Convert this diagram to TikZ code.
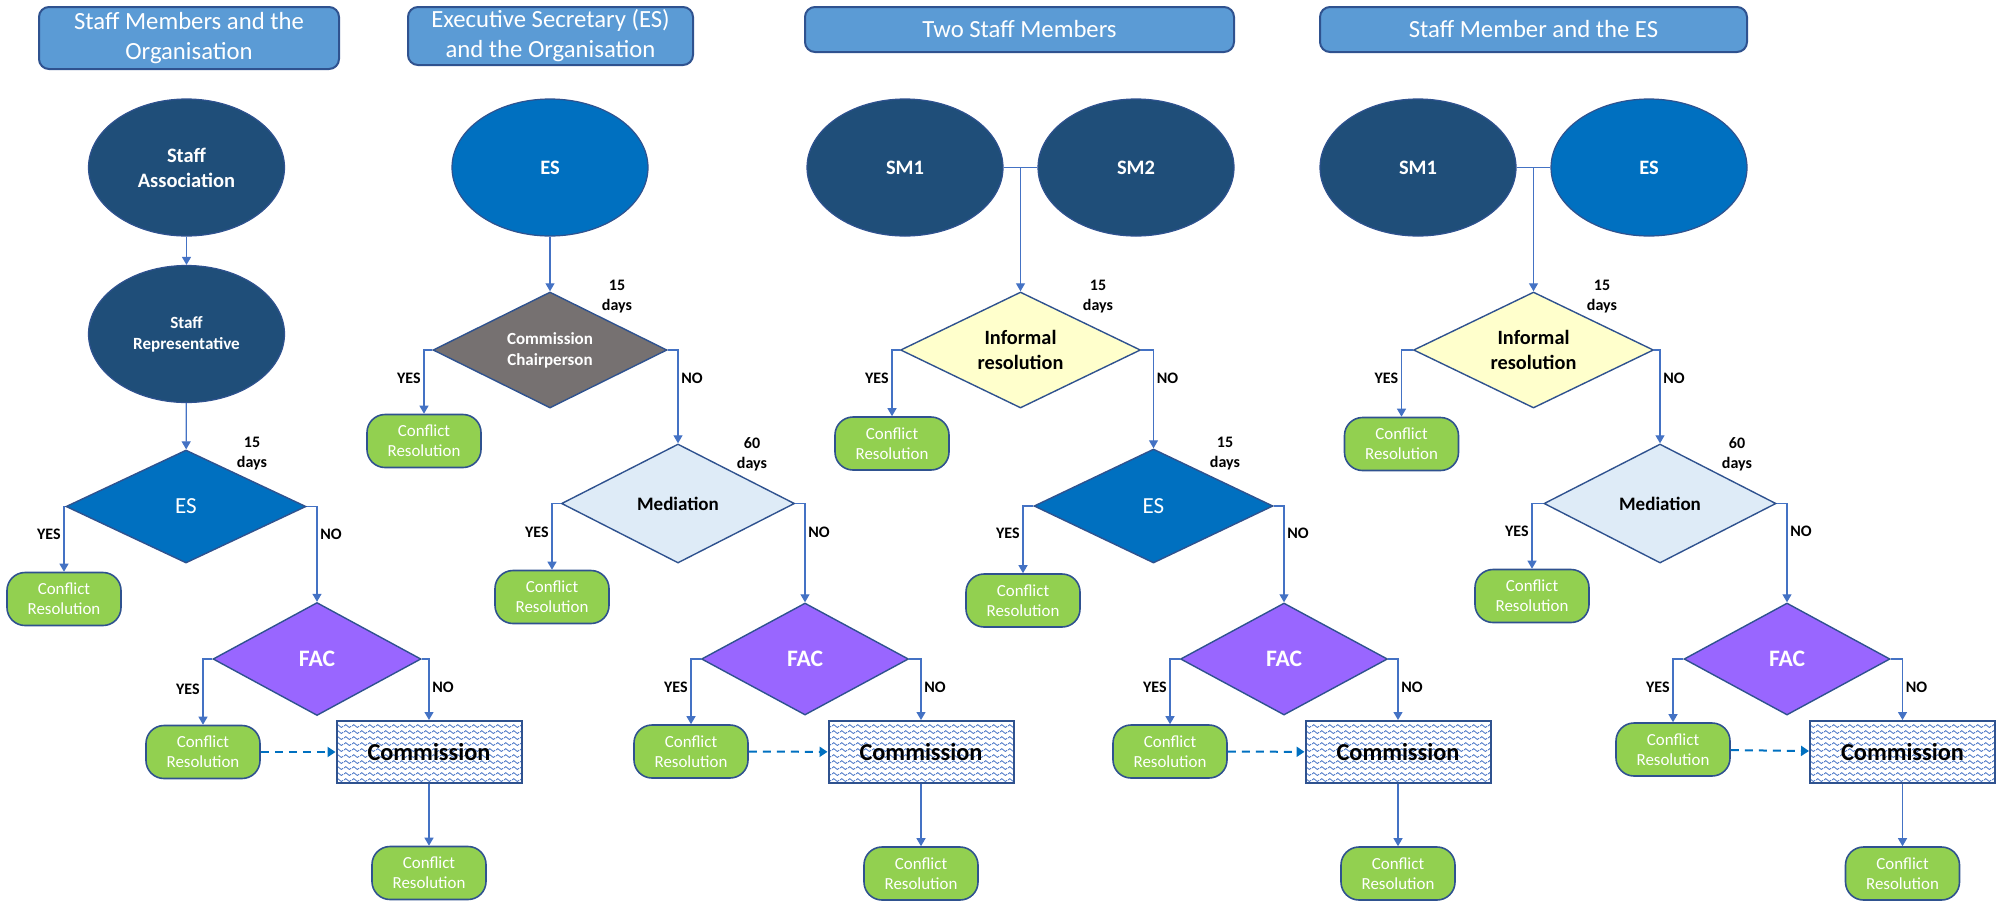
\documentclass[tikz,border=0pt]{standalone}
\usepackage{fontspec}
\setmainfont{Carlito}
\usepackage{xcolor}
\usepackage{tikz}
\usetikzlibrary{positioning, shapes.geometric, arrows.meta, patterns}
\definecolor{titleblue}{RGB}{91,155,213}
\definecolor{borderblue}{RGB}{47,82,143}
\definecolor{darknavy}{RGB}{31,78,121}
\definecolor{esblue}{RGB}{0,112,192}
\definecolor{facpurple}{RGB}{153,102,255}
\definecolor{chairgray}{RGB}{118,113,113}
\definecolor{medblue}{RGB}{222,235,247}
\definecolor{infyellow}{RGB}{255,255,204}
\definecolor{resgreen}{RGB}{146,208,80}
\definecolor{lineblue}{RGB}{68,114,196}

\pgfdeclarepatternformonly{bluewaves}{\pgfqpoint{0pt}{0pt}}{\pgfqpoint{4pt}{3pt}}{\pgfqpoint{4pt}{3pt}}{%
    \pgfsetlinewidth{0.45pt}
    \pgfpathmoveto{\pgfqpoint{0pt}{1.1pt}}
    \pgfpathcurveto{\pgfqpoint{0.65pt}{2.2pt}}{\pgfqpoint{1.35pt}{2.2pt}}{\pgfqpoint{2pt}{1.1pt}}
    \pgfpathcurveto{\pgfqpoint{2.65pt}{0pt}}{\pgfqpoint{3.35pt}{0pt}}{\pgfqpoint{4pt}{1.1pt}}
    \pgfusepath{stroke}
}

\tikzset{
    titlebox/.style={
        rectangle, rounded corners=5pt,
        draw=borderblue, line width=1pt,
        fill=titleblue, text=white,
        align=center, inner sep=0pt,
        font=\fontsize{12.35}{15}\selectfont
    },
    party/.style={
        ellipse, draw=borderblue, line width=0.6pt,
        minimum width=98pt, minimum height=68.5pt,
        inner sep=0pt, text=white, align=center,
        font=\bfseries\fontsize{10.25}{12.5}\selectfont
    },
    decision/.style={
        diamond, aspect=2,
        draw=borderblue, line width=0.7pt,
        inner sep=0pt, align=center
    },
    outcome/.style={
        rectangle, rounded corners=9pt,
        draw=borderblue, line width=0.8pt,
        fill=resgreen, text=white,
        minimum width=57pt, minimum height=26.5pt,
        inner sep=0pt, align=center,
        font=\fontsize{8.45}{10}\selectfont
    },
    commission/.style={
        rectangle, draw=borderblue, line width=1pt,
        pattern=bluewaves, pattern color=lineblue,
        minimum width=92.5pt, minimum height=31pt,
        font=\bfseries\fontsize{12.15}{14}\selectfont
    }
}
\tikzset{
    ptr/.style={
        -{Triangle[width=4.5pt,length=4pt]},
        draw=lineblue, line width=0.6pt
    },
    link/.style={draw=lineblue, line width=0.6pt},
    dashptr/.style={
        -{Triangle[width=5pt,length=4pt]},
        draw=esblue, line width=1pt,
        dash pattern=on 4pt off 3pt
    },
    answer/.style={font=\bfseries\fontsize{8}{10}\selectfont, inner sep=1.5pt},
    delay/.style={font=\bfseries\fontsize{8}{10}\selectfont, align=center, inner sep=0pt}
}

\begin{document}
\begin{tikzpicture}[x=0.5pt, y=-0.5pt]
    \useasboundingbox (0,0) rectangle (2002,901);

    % Staff Members and the Organisation
    \node[titlebox, minimum width=150pt, minimum height=31pt] (t1) at (189,38) {Staff Members and the\\Organisation};
    \node[party, fill=darknavy] (sa) at (186.5,167.5) {Staff\\Association};
    \node[party, fill=darknavy, font=\bfseries\fontsize{8.55}{10.5}\selectfont] (sr) at (186.5,334) {Staff\\Representative};
    \node[decision, fill=esblue, text=white, minimum width=120pt, minimum height=56.5pt,
          font=\fontsize{11.5}{13}\selectfont] (es1) at (186,506.5) {ES};
    \node[delay] (d1) at (252,454) {15\\days};
    \node[outcome] (cr1a) at (64,599) {Conflict\\Resolution};
    \node[decision, fill=facpurple, text=white, minimum width=104pt, minimum height=56.5pt,
          font=\bfseries\fontsize{11.8}{13}\selectfont] (fac1) at (317,659) {FAC};
    \node[outcome] (cr1b) at (203,752) {Conflict\\Resolution};
    \node[commission] (com1) at (429,752) {Commission};
    \node[outcome] (cr1c) at (429,873) {Conflict\\Resolution};

    \draw[ptr] (sa) -- (sr);
    \draw[ptr] (sr) -- (es1);
    \draw[ptr] (es1.west) -| (cr1a.north);
    \draw[ptr] (es1.east) -| (fac1.north);
    \draw[ptr] (fac1.west) -| (cr1b.north);
    \draw[ptr] (fac1.east) -| (com1.north);
    \draw[dashptr] (cr1b) -- (com1);
    \draw[ptr] (com1) -- (cr1c);
    \node[answer, left] (y1a) at ([yshift=-14pt]es1.west -| cr1a.north) {YES};
    \node[answer, right] (n1a) at ([yshift=-14pt]es1.east -| fac1.north) {NO};
    \node[answer, left] (y1b) at ([yshift=-15pt]fac1.west -| cr1b.north) {YES};
    \node[answer, right] (n1b) at ([yshift=-14pt]fac1.east -| com1.north) {NO};

    % Executive Secretary and the Organisation
    \node[titlebox, minimum width=142.5pt, minimum height=29pt] (t2) at (550.5,36) {Executive Secretary (ES)\\and the Organisation};
    \node[party, fill=esblue] (es2) at (550,167.5) {ES};
    \node[decision, fill=chairgray, text=white, minimum width=117pt, minimum height=58pt,
          font=\bfseries\fontsize{8.5}{10.5}\selectfont] (cc2) at (550,350) {Commission\\Chairperson};
    \node[delay] (d2a) at (617,297) {15\\days};
    \node[outcome] (cr2a) at (424,441) {Conflict\\Resolution};
    \node[decision, fill=medblue, minimum width=116.5pt, minimum height=59.5pt,
          font=\bfseries\fontsize{9.5}{11}\selectfont] (med2) at (678,503.5) {Mediation};
    \node[delay] (d2b) at (752,454) {60\\days};
    \node[outcome] (cr2b) at (552,597) {Conflict\\Resolution};
    \node[decision, fill=facpurple, text=white, minimum width=103.5pt, minimum height=56pt,
          font=\bfseries\fontsize{11.8}{13}\selectfont] (fac2) at (805,659) {FAC};
    \node[outcome] (cr2c) at (691,751.5) {Conflict\\Resolution};
    \node[commission] (com2) at (921,752) {Commission};
    \node[outcome] (cr2d) at (921,873.5) {Conflict\\Resolution};

    \draw[ptr] (es2) -- (cc2);
    \draw[ptr] (cc2.west) -| (cr2a.north);
    \draw[ptr] (cc2.east) -| (med2.north);
    \draw[ptr] (med2.west) -| (cr2b.north);
    \draw[ptr] (med2.east) -| (fac2.north);
    \draw[ptr] (fac2.west) -| (cr2c.north);
    \draw[ptr] (fac2.east) -| (com2.north);
    \draw[dashptr] (cr2c) -- (com2);
    \draw[ptr] (com2) -- (cr2d);
    \node[answer, left] (y2a) at ([yshift=-14pt]cc2.west -| cr2a.north) {YES};
    \node[answer, right] (n2a) at ([yshift=-14pt]cc2.east -| med2.north) {NO};
    \node[answer, left] (y2b) at ([yshift=-14.5pt]med2.west -| cr2b.north) {YES};
    \node[answer, right] (n2b) at ([yshift=-14.5pt]med2.east -| fac2.north) {NO};
    \node[answer, left] (y2c) at ([yshift=-14pt]fac2.west -| cr2c.north) {YES};
    \node[answer, right] (n2c) at ([yshift=-14pt]fac2.east -| com2.north) {NO};

    % Two Staff Members
    \node[titlebox, minimum width=214.5pt, minimum height=22.5pt] (t3) at (1019.5,29.5) {Two Staff Members};
    \node[party, fill=darknavy] (sm3a) at (905,167.5) {SM1};
    \node[party, fill=darknavy] (sm3b) at (1136,167.5) {SM2};
    \node[decision, fill=infyellow, minimum width=120pt, minimum height=58pt,
          font=\bfseries\fontsize{10.15}{12.5}\selectfont] (ir3) at (1020.5,350) {Informal\\resolution};
    \node[delay] (d3a) at (1098,297) {15\\days};
    \node[outcome] (cr3a) at (892,443.5) {Conflict\\Resolution};
    \node[decision, fill=esblue, text=white, minimum width=119.5pt, minimum height=57pt,
          font=\fontsize{11.5}{13}\selectfont] (es3) at (1153.5,506) {ES};
    \node[delay] (d3b) at (1225,454) {15\\days};
    \node[outcome] (cr3b) at (1023,600.5) {Conflict\\Resolution};
    \node[decision, fill=facpurple, text=white, minimum width=103.5pt, minimum height=56pt,
          font=\bfseries\fontsize{11.8}{13}\selectfont] (fac3) at (1284,659) {FAC};
    \node[outcome] (cr3c) at (1170,751.5) {Conflict\\Resolution};
    \node[commission] (com3) at (1398,752) {Commission};
    \node[outcome] (cr3d) at (1398,873.5) {Conflict\\Resolution};

    \draw[link] (sm3a.east) -- (sm3b.west);
    \draw[ptr] (ir3.north |- sm3a.east) -- (ir3.north);
    \draw[ptr] (ir3.west) -| (cr3a.north);
    \draw[ptr] (ir3.east) -| (es3.north);
    \draw[ptr] (es3.west) -| (cr3b.north);
    \draw[ptr] (es3.east) -| (fac3.north);
    \draw[ptr] (fac3.west) -| (cr3c.north);
    \draw[ptr] (fac3.east) -| (com3.north);
    \draw[dashptr] (cr3c) -- (com3);
    \draw[ptr] (com3) -- (cr3d);
    \node[answer, left] (y3a) at ([yshift=-14pt]ir3.west -| cr3a.north) {YES};
    \node[answer, right] (n3a) at ([yshift=-14pt]ir3.east -| es3.north) {NO};
    \node[answer, left] (y3b) at ([yshift=-13.5pt]es3.west -| cr3b.north) {YES};
    \node[answer, right] (n3b) at ([yshift=-13.5pt]es3.east -| fac3.north) {NO};
    \node[answer, left] (y3c) at ([yshift=-14pt]fac3.west -| cr3c.north) {YES};
    \node[answer, right] (n3c) at ([yshift=-14pt]fac3.east -| com3.north) {NO};

    % Staff Member and the ES
    \node[titlebox, minimum width=213.5pt, minimum height=22.5pt] (t4) at (1533.5,29.5) {Staff Member and the ES};
    \node[party, fill=darknavy] (sm4) at (1418,167.5) {SM1};
    \node[party, fill=esblue] (es4) at (1649,167.5) {ES};
    \node[decision, fill=infyellow, minimum width=120pt, minimum height=58pt,
          font=\bfseries\fontsize{10.15}{12.5}\selectfont] (ir4) at (1533.5,350) {Informal\\resolution};
    \node[delay] (d4a) at (1602,297) {15\\days};
    \node[outcome] (cr4a) at (1401.5,444) {Conflict\\Resolution};
    \node[decision, fill=medblue, minimum width=116pt, minimum height=59.5pt,
          font=\bfseries\fontsize{9.5}{11}\selectfont] (med4) at (1660,503.5) {Mediation};
    \node[delay] (d4b) at (1737,454) {60\\days};
    \node[outcome] (cr4b) at (1532,596) {Conflict\\Resolution};
    \node[decision, fill=facpurple, text=white, minimum width=103pt, minimum height=56pt,
          font=\bfseries\fontsize{11.8}{13}\selectfont] (fac4) at (1787,659) {FAC};
    \node[outcome] (cr4c) at (1673,749.5) {Conflict\\Resolution};
    \node[commission] (com4) at (1902.5,752) {Commission};
    \node[outcome] (cr4d) at (1902.5,873.5) {Conflict\\Resolution};

    \draw[link] (sm4.east) -- (es4.west);
    \draw[ptr] (ir4.north |- sm4.east) -- (ir4.north);
    \draw[ptr] (ir4.west) -| (cr4a.north);
    \draw[ptr] (ir4.east) -| (med4.north);
    \draw[ptr] (med4.west) -| (cr4b.north);
    \draw[ptr] (med4.east) -| (fac4.north);
    \draw[ptr] (fac4.west) -| (cr4c.north);
    \draw[ptr] (fac4.east) -| (com4.north);
    \draw[dashptr] (cr4c) -- (com4);
    \draw[ptr] (com4) -- (cr4d);
    \node[answer, left] (y4a) at ([yshift=-14pt]ir4.west -| cr4a.north) {YES};
    \node[answer, right] (n4a) at ([yshift=-14pt]ir4.east -| med4.north) {NO};
    \node[answer, left] (y4b) at ([yshift=-14pt]med4.west -| cr4b.north) {YES};
    \node[answer, right] (n4b) at ([yshift=-14pt]med4.east -| fac4.north) {NO};
    \node[answer, left] (y4c) at ([yshift=-14pt]fac4.west -| cr4c.north) {YES};
    \node[answer, right] (n4c) at ([yshift=-14pt]fac4.east -| com4.north) {NO};
\end{tikzpicture}
\end{document}
